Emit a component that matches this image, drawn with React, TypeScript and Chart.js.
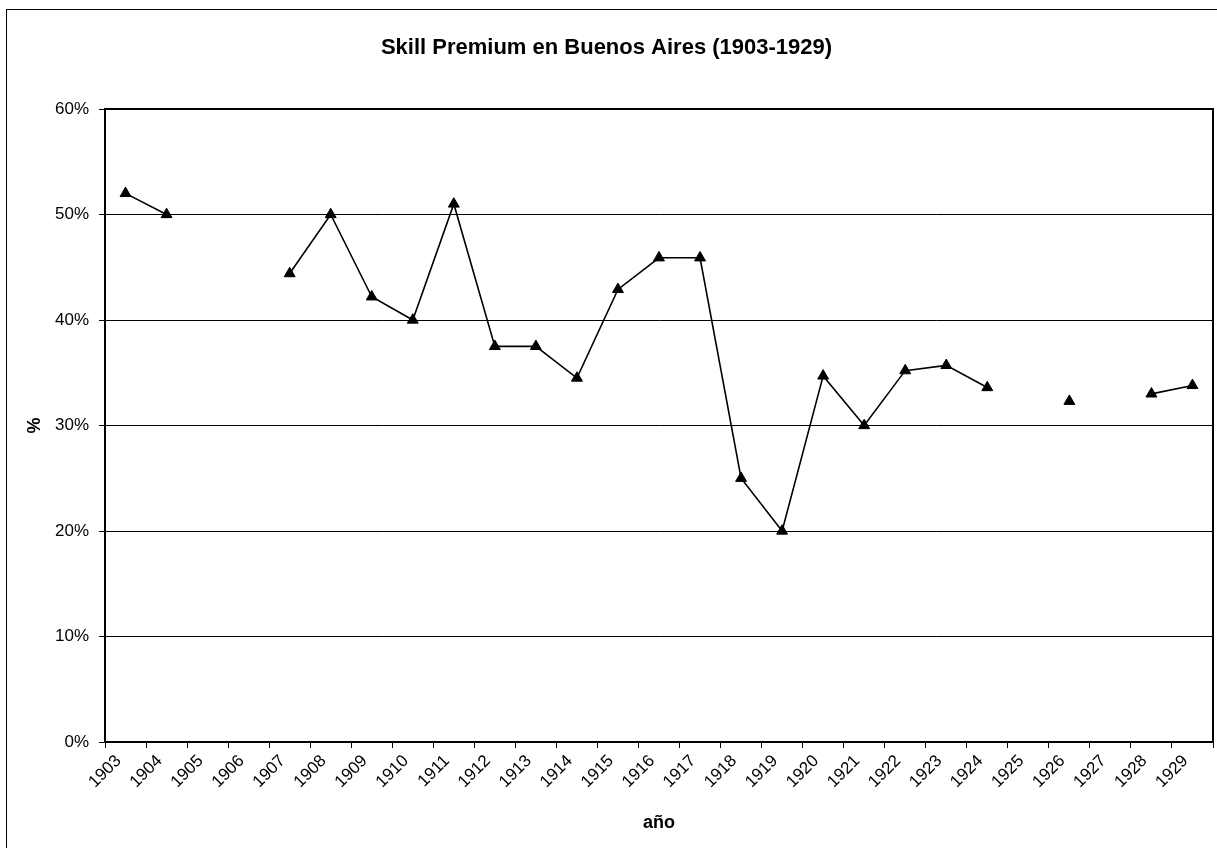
import React, { useEffect, useRef } from "react";
import { Chart, registerables } from "chart.js";

Chart.register(...registerables);

const years = [
  "1903", "1904", "1905", "1906", "1907", "1908", "1909", "1910", "1911",
  "1912", "1913", "1914", "1915", "1916", "1917", "1918", "1919", "1920",
  "1921", "1922", "1923", "1924", "1925", "1926", "1927", "1928", "1929",
];

const skillPremium: (number | null)[] = [
  52.0, 50.0, null, null, 44.4, 50.0, 42.2, 40.0, 51.0,
  37.5, 37.5, 34.5, 42.9, 45.9, 45.9, 25.0, 20.0, 34.7,
  30.0, 35.2, 35.7, 33.6, null, 32.3, null, 33.0, 33.8,
];

const yTicks = [0, 10, 20, 30, 40, 50, 60];

const chartTitle = "Skill Premium en Buenos Aires (1903-1929)";
const xTitle = "año";
const yTitle = "%";

const FONT = "'Liberation Sans', Arial, Helvetica, sans-serif";

export default function App() {
  const ref = useRef<HTMLCanvasElement | null>(null);

  useEffect(() => {
    if (!ref.current) return;
    Chart.defaults.font.family = FONT;
    Chart.defaults.color = "#000";

    const framePlugin = {
      id: "frame",
      beforeDraw(chart: any) {
        const ctx = chart.ctx;
        ctx.save();
        ctx.fillStyle = "#fff";
        ctx.fillRect(0, 0, chart.width, chart.height);
        ctx.strokeStyle = "#000";
        ctx.lineWidth = 1;
        ctx.strokeRect(6.5, 9.5, chart.width + 20, chart.height + 20);
        ctx.restore();
      },
      beforeDatasetsDraw(chart: any) {
        const { left, top, right, bottom } = chart.chartArea;
        const ctx = chart.ctx;
        ctx.save();
        ctx.strokeStyle = "#000";
        ctx.lineWidth = 2;
        ctx.strokeRect(left, top, right - left, bottom - top);
        ctx.restore();
      },
    };

    const chart = new Chart(ref.current, {
      type: "line",
      data: {
        labels: years,
        datasets: [
          {
            label: "Skill Premium",
            data: skillPremium,
            borderColor: "#000",
            backgroundColor: "#000",
            borderWidth: 1.6,
            pointStyle: "triangle",
            pointRadius: 6.3,
            pointBorderWidth: 1,
            pointBackgroundColor: "#000",
            pointBorderColor: "#000",
            spanGaps: false,
            tension: 0,
          },
        ],
      },
      options: {
        responsive: false,
        animation: false,
        devicePixelRatio: 1,
        layout: { autoPadding: false, padding: { left: 0, right: 4, top: 0, bottom: 0 } },
        plugins: {
          legend: { display: false },
          tooltip: { enabled: false },
          title: {
            display: true,
            text: chartTitle,
            font: { size: 22, weight: "bold", family: FONT },
            color: "#000",
            padding: { top: 35, bottom: 47.6 },
          },
        },
        scales: {
          x: {
            type: "category",
            offset: true,
            afterFit: (s: any) => {
              s.height = 106;
              s.paddingRight = 0;
              s.paddingLeft = 0;
            },
            grid: {
              offset: true,
              drawOnChartArea: false,
              drawTicks: true,
              tickLength: 6,
              color: "#000",
              lineWidth: 1,
            },
            border: { display: true, color: "#000", width: 2 },
            ticks: {
              autoSkip: false,
              maxRotation: 45,
              minRotation: 45,
              padding: 3,
              labelOffset: -7,
              font: { size: 17, family: FONT },
              color: "#000",
            },
            title: {
              display: true,
              text: xTitle,
              font: { size: 18, weight: "bold", family: FONT },
              color: "#000",
              padding: { top: 0, bottom: 14 },
            },
          },
          y: {
            min: 0,
            max: 60,
            afterFit: (s: any) => {
              s.width = 105;
            },
            afterBuildTicks: (s: any) => {
              s.ticks = yTicks.map((v) => ({ value: v }));
            },
            grid: {
              color: "#000",
              lineWidth: 1,
              drawTicks: true,
              tickLength: 6,
            },
            border: { display: true, color: "#000", width: 2 },
            ticks: {
              padding: 10,
              font: { size: 17, family: FONT },
              color: "#000",
              callback: (v: any) => `${v}%`,
            },
            title: {
              display: true,
              text: yTitle,
              font: { size: 18, weight: "bold", family: FONT },
              color: "#000",
              padding: { top: 24, bottom: 0 },
            },
          },
        },
      },
      plugins: [framePlugin],
    } as any);

    return () => chart.destroy();
  }, []);

  return (
    <div
      style={{
        position: "fixed",
        left: 0,
        top: 0,
        width: 1217,
        height: 848,
        overflow: "hidden",
        background: "#fff",
      }}
    >
      <canvas ref={ref} width={1217} height={848} style={{ display: "block", width: 1217, height: 848 }} />
    </div>
  );
}
